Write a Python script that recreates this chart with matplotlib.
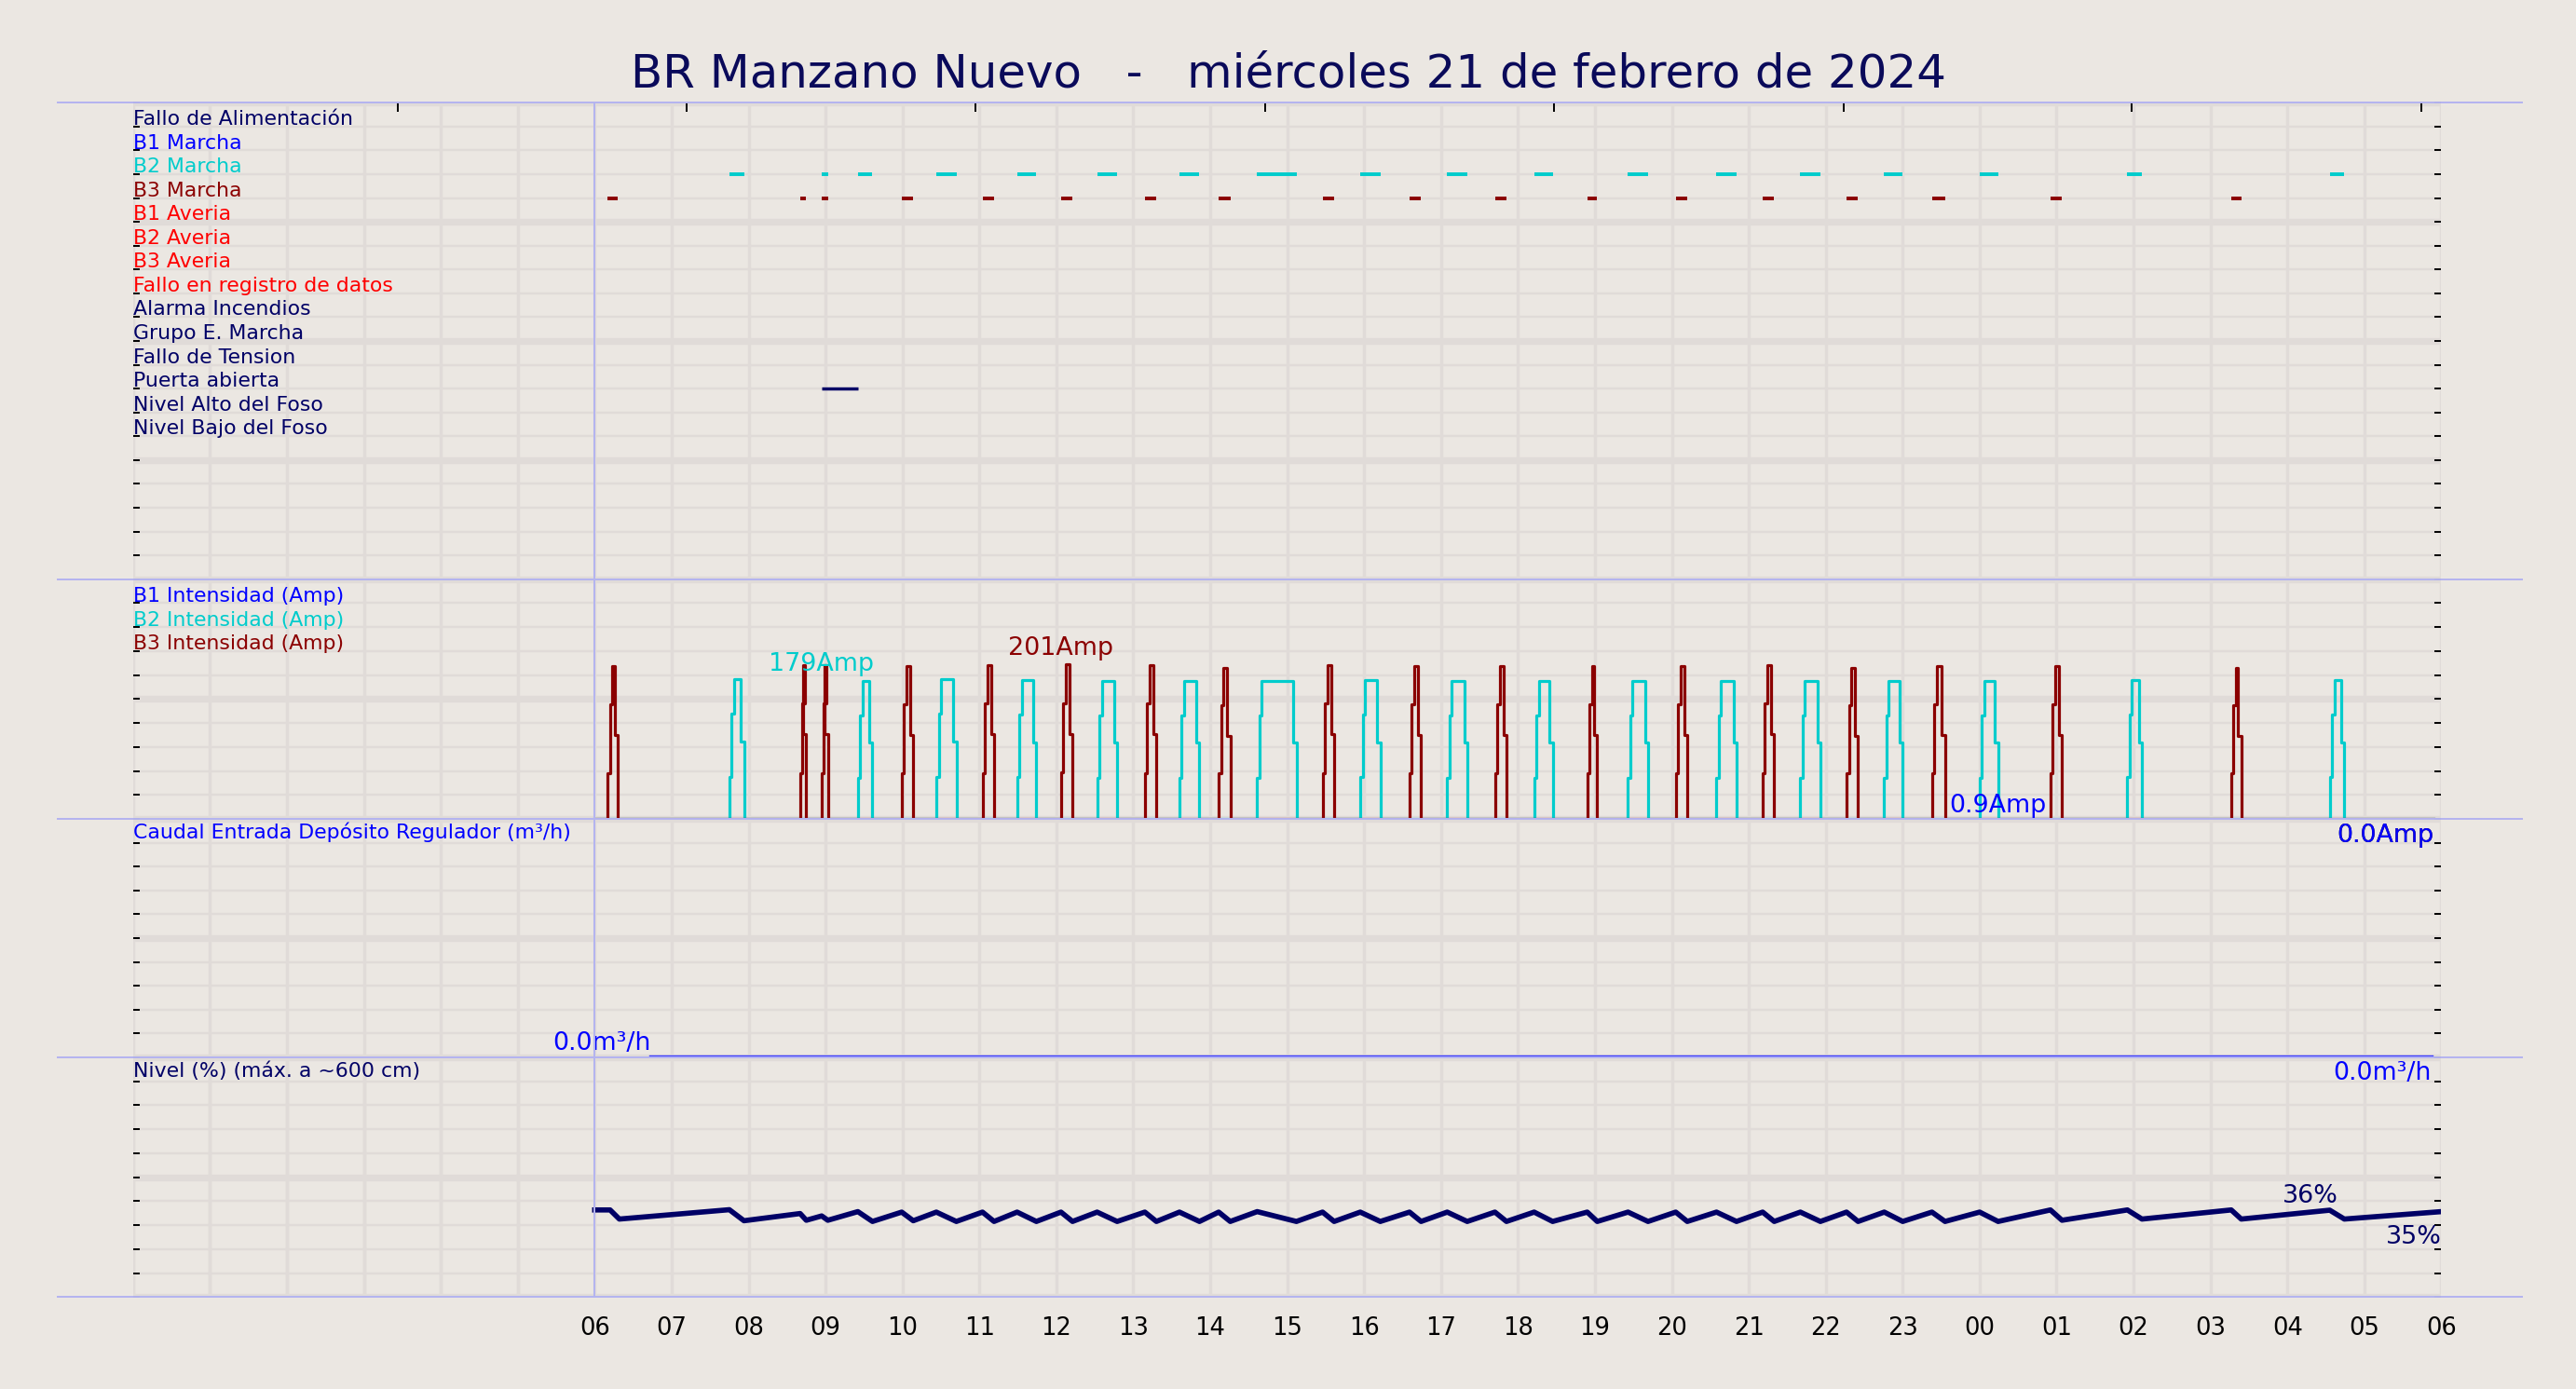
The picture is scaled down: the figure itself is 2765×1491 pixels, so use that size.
import matplotlib
matplotlib.use("Agg")
import matplotlib.pyplot as plt
from matplotlib.lines import Line2D
import numpy as np

# ---------------- data ----------------
title = "BR Manzano Nuevo   -   miércoles 21 de febrero de 2024"
signal_labels = ["Fallo de Alimentación", "B1 Marcha", "B2 Marcha", "B3 Marcha", "B1 Averia",
                 "B2 Averia", "B3 Averia", "Fallo en registro de datos", "Alarma Incendios",
                 "Grupo E. Marcha", "Fallo de Tension", "Puerta abierta", "Nivel Alto del Foso",
                 "Nivel Bajo del Foso"]
hour_ticks = list(range(6, 31))
hour_labels = ["06", "07", "08", "09", "10", "11", "12", "13", "14", "15", "16", "17", "18",
               "19", "20", "21", "22", "23", "00", "01", "02", "03", "04", "05", "06"]

b3_start = [6.17, 8.67, 8.95, 9.99, 11.04, 12.06, 13.15, 14.11, 15.46, 16.59, 17.70, 18.90,
            20.05, 21.18, 22.27, 23.38, 24.92, 27.27]
b3_end = [6.30, 8.75, 9.03, 10.14, 11.19, 12.21, 13.30, 14.26, 15.61, 16.74, 17.85, 19.03,
          20.20, 21.33, 22.42, 23.55, 25.07, 27.40]
b3_peak = [199, 200, 200, 199, 200, 201, 200, 197, 200, 199, 199, 199, 199, 200, 197, 199, 199, 197]

b2_start = [7.75, 9.42, 10.44, 11.49, 12.53, 13.60, 14.61, 15.95, 17.08, 18.21, 19.43, 20.58,
            21.67, 22.76, 24.00, 25.92, 28.55]
b2_end = [7.94, 9.61, 10.70, 11.74, 12.79, 13.86, 15.12, 16.21, 17.34, 18.45, 19.69, 20.84,
          21.93, 23.00, 24.24, 26.11, 28.74]
b2_peak = [182, 180, 182, 181, 180, 180, 180, 181, 180, 180, 180, 180, 180, 180, 180, 181, 181]

puerta_start = [8.95]
puerta_end = [9.42]

caudal_t = [6.73, 29.87]
caudal_v = [0.0, 0.0]

level_t = [6.0, 6.20, 6.32, 7.75, 7.94, 8.67, 8.75, 8.95, 9.03, 9.42, 9.61, 9.99, 10.14, 10.44,
           10.70, 11.04, 11.19, 11.49, 11.74, 12.06, 12.21, 12.53, 12.79, 13.15, 13.30, 13.60,
           13.86, 14.11, 14.26, 14.61, 15.12, 15.46, 15.61, 15.95, 16.21, 16.59, 16.74, 17.08,
           17.34, 17.70, 17.85, 18.21, 18.45, 18.90, 19.03, 19.43, 19.69, 20.05, 20.20, 20.58,
           20.84, 21.18, 21.33, 21.67, 21.93, 22.27, 22.42, 22.76, 23.00, 23.38, 23.55, 24.00,
           24.24, 24.92, 25.07, 25.92, 26.11, 27.27, 27.40, 28.55, 28.74, 30.0]
level_v = [36.3, 36.3, 32.5, 36.4, 31.8, 34.8, 32.0, 33.8, 32.0, 35.6, 31.5, 35.4, 31.8, 35.4,
           31.5, 35.4, 31.5, 35.4, 31.5, 35.4, 31.5, 35.4, 31.5, 35.4, 31.5, 35.4, 31.5, 35.4,
           31.5, 35.6, 31.5, 35.4, 31.5, 35.4, 31.5, 35.4, 31.5, 35.4, 31.5, 35.4, 31.5, 35.4,
           31.5, 35.4, 31.5, 35.4, 31.5, 35.4, 31.5, 35.4, 31.5, 35.4, 31.5, 35.4, 31.5, 35.4,
           31.5, 35.4, 31.5, 35.4, 31.5, 35.4, 31.5, 36.3, 32.0, 36.3, 32.5, 36.3, 32.5, 36.2,
           32.5, 35.6]

# ---------------- style ----------------
BG = "#ebe7e2"
GRID = "#e0dbd8"
SEP = "#b4b4f0"
NAVY = "#000066"
CYAN = "#00cccc"
DRED = "#8b0000"
BLUE = "#0000ff"
RED = "#ff0000"
label_colors = [NAVY, BLUE, CYAN, DRED, RED, RED, RED, RED, NAVY, NAVY, NAVY, NAVY, NAVY, NAVY]
LFS = 9.0

W, H = 1568.0, 846.0
fig = plt.figure(figsize=(15.68, 8.46), dpi=176.34, facecolor=BG)
x0, x1 = 81 / W, 1486 / W
ybounds = [63, 353, 499, 644, 790]


def mkax(i):
    top, bot = ybounds[i], ybounds[i + 1]
    ax = fig.add_axes([x0, 1 - bot / H, x1 - x0, (bot - top) / H])
    ax.set_facecolor(BG)
    for s in ax.spines.values():
        s.set_visible(False)
    ax.set_xlim(0, 30)
    ax.set_xticks(range(0, 31))
    ax.tick_params(axis="x", length=0, labelbottom=False)
    ax.tick_params(axis="y", direction="in", length=3, width=0.8, left=True, right=True,
                   labelleft=False)
    for h in range(0, 31):
        ax.axvline(h, color=GRID, lw=1.4, zorder=0)
    return ax


def step_trace(starts, ends, peaks):
    t, v = [6.0], [0.0]
    for s, e, p in zip(starts, ends, peaks):
        t += [s, s + 0.03, s + 0.06, e - 0.04, e]
        v += [0.3 * p, 0.75 * p, p, 0.55 * p, 0.0]
    t.append(29.9)
    v.append(0.0)
    return t, v


# panel 1: signals
ax1 = mkax(0)
ax1.set_ylim(0, 20)
ax1.set_yticks(range(0, 21))
for k in range(0, 21):
    ax1.axhline(k, color=GRID, lw=3.0 if k % 5 == 0 else 1.0, zorder=0)
for i, (lab, c) in enumerate(zip(signal_labels, label_colors)):
    ax1.text(0.0, 19 - i - 0.05, lab, color=c, fontsize=LFS, va="bottom", ha="left")
for s, e in zip(b2_start, b2_end):
    ax1.plot([s, e], [17, 17], color=CYAN, lw=1.6, solid_capstyle="butt")
ax1.plot([8.95, 9.03], [17, 17], color=CYAN, lw=1.6, solid_capstyle="butt")
for s, e in zip(b3_start, b3_end):
    ax1.plot([s, e], [16, 16], color=DRED, lw=1.6, solid_capstyle="butt")
for s, e in zip(puerta_start, puerta_end):
    ax1.plot([s, e], [8, 8], color=NAVY, lw=1.4, solid_capstyle="butt")
sec = ax1.secondary_xaxis("top")
sec.set_xticks([3.44, 7.2, 10.95, 14.71, 18.47, 22.23, 25.98, 29.74])
sec.tick_params(direction="in", length=4, width=0.8, labeltop=False)
for s in sec.spines.values():
    s.set_visible(False)

# panel 2: currents
ax2 = mkax(1)
ax2.set_ylim(0, 312)
ax2.set_yticks(np.linspace(0, 312, 11))
for k, yv in enumerate(np.linspace(0, 312, 11)):
    ax2.axhline(yv, color=GRID, lw=3.0 if k % 5 == 0 else 1.0, zorder=0)
for i, (lab, c) in enumerate(zip(["B1 Intensidad (Amp)", "B2 Intensidad (Amp)",
                                  "B3 Intensidad (Amp)"], [BLUE, CYAN, DRED])):
    ax2.text(0.0, 312 * (9 - i) / 10 - 2, lab, color=c, fontsize=LFS, va="bottom")
ax2.plot([6.0, 29.9], [0, 0], color=BLUE, lw=1.2, clip_on=False)
t2, v2 = step_trace(b2_start, b2_end, b2_peak)
ax2.plot(t2, v2, color=CYAN, lw=1.3, drawstyle="steps-post", clip_on=False)
t3, v3 = step_trace(b3_start, b3_end, b3_peak)
ax2.plot(t3, v3, color=DRED, lw=1.3, drawstyle="steps-post", clip_on=False)
ax2.text(8.95, 187, "179Amp", color=CYAN, fontsize=11, ha="center", va="bottom")
ax2.text(12.06, 207, "201Amp", color=DRED, fontsize=11, ha="center", va="bottom")
ax2.text(23.6, 2, "0.9Amp", color=BLUE, fontsize=11, ha="left", va="bottom")

# panel 3: flow
ax3 = mkax(2)
ax3.set_ylim(0, 10)
ax3.set_yticks(range(0, 11))
for k in range(0, 11):
    ax3.axhline(k, color=GRID, lw=3.0 if k % 5 == 0 else 1.0, zorder=0)
ax3.text(0.0, 9.05, "Caudal Entrada Depósito Regulador (m³/h)", color=BLUE, fontsize=LFS,
         va="bottom")
for c in [CYAN, DRED, BLUE]:
    ax3.text(29.9, 9.85, "0.0Amp", color=c, fontsize=11, ha="right", va="top")

# panel 4: level
ax4 = mkax(3)
ax4.set_ylim(0, 100)
ax4.set_yticks(range(0, 101, 10))
for k, yv in enumerate(range(0, 101, 10)):
    ax4.axhline(yv, color=GRID, lw=3.0 if k % 5 == 0 else 1.0, zorder=0)
ax4.text(0.0, 90.5, "Nivel (%) (máx. a ~600 cm)", color=NAVY, fontsize=LFS, va="bottom")
ax4.plot(level_t, level_v, color=NAVY, lw=2.3, zorder=5)
ax4.text(28.3, 37.5, "36%", color=NAVY, fontsize=11, ha="center", va="bottom")
ax4.text(30.0, 30.5, "35%", color=NAVY, fontsize=11, ha="right", va="top")
ax4.text(29.87, 98.5, "0.0m³/h", color=BLUE, fontsize=11, ha="right", va="top")
ax4.set_xticks(hour_ticks)
ax4.set_xticklabels(hour_labels)
ax4.tick_params(axis="x", labelbottom=True, labelsize=10.5, pad=8)
for h in range(0, 6):
    ax4.axvline(h, color=GRID, lw=1.4, zorder=0)

# separators and 06h line
for yb in ybounds:
    fig.add_artist(Line2D([35 / W, 1535 / W], [1 - yb / H, 1 - yb / H], color=SEP, lw=0.8))
xh6 = 362 / W
fig.add_artist(Line2D([xh6, xh6], [1 - 790 / H, 1 - 63 / H], color=SEP, lw=0.8))

# flow line drawn on top of the separators
ax3.plot(caudal_t, caudal_v, color="#3a3aff", lw=1.8, clip_on=False, zorder=10)
ax3.text(6.73, 0.12, "0.0m³/h", color=BLUE, fontsize=11, ha="right", va="bottom")
fig.artists.sort(key=lambda a: 0)

fig.text(0.5, 1 - 45 / H, title, color="#0a0a5a", fontsize=20.4, ha="center", va="center")

fig.savefig("out.png", dpi=176.34, facecolor=BG)
